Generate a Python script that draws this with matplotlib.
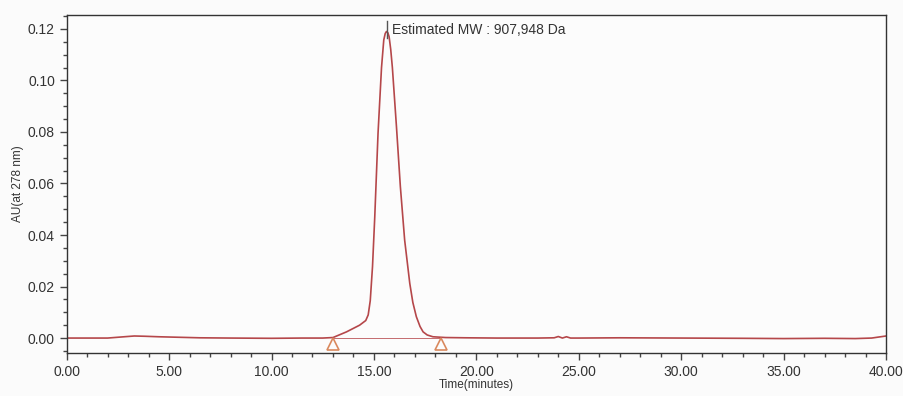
import numpy as np
import matplotlib
matplotlib.use("Agg")
import matplotlib.pyplot as plt
from matplotlib.ticker import MultipleLocator, FormatStrFormatter

plt.rcParams["font.family"] = ["Liberation Sans", "DejaVu Sans"]

# chromatogram trace (time in minutes, absorbance in AU)
time_min = [0.0, 1.0, 2.0, 2.8, 3.3, 3.8, 4.5, 5.5, 6.5, 8.0, 10.0, 11.5, 12.5, 13.0,
            13.66, 14.3, 14.6, 14.72, 14.82, 14.93, 15.04, 15.2, 15.37, 15.48, 15.55,
            15.61, 15.68, 15.74, 15.82, 15.9, 16.1, 16.29, 16.5, 16.75, 16.9, 17.07,
            17.25, 17.4, 17.6, 17.88, 18.5, 19.5, 21.0, 23.0, 23.8, 24.0, 24.2, 24.4,
            24.6, 25.0, 27.0, 30.0, 33.0, 35.0, 37.0, 38.5, 39.3, 40.0]
au = [0.0, 0.0, 0.0, 0.0005, 0.0008, 0.0007, 0.0005, 0.0003, 0.0001, 0.0, -0.0001,
      0.0, 0.0, 0.0002, 0.0024, 0.005, 0.0068, 0.009, 0.0145, 0.0277, 0.047, 0.0795,
      0.105, 0.1157, 0.1182, 0.119, 0.1185, 0.117, 0.112, 0.105, 0.082, 0.0588,
      0.038, 0.0212, 0.0138, 0.0083, 0.0045, 0.0024, 0.0012, 0.0005, 0.0002, 0.0001,
      0.0, 0.0, 0.0001, 0.0006, 0.0, 0.0005, 0.0, 0.0, 0.0001, 0.0, -0.0001, -0.0002,
      -0.0001, -0.0002, 0.0, 0.0008]

peak_start, peak_end = 13.0, 18.25
peak_time = 15.62
peak_label = "Estimated MW : 907,948 Da"

line_c = "#b5474a"
tri_c = "#d9895e"

fig = plt.figure(figsize=(9.04, 3.96), dpi=100, facecolor="#fbfbfb")
ax = fig.add_axes([66.7 / 904, 1 - 353 / 396, (886 - 66.7) / 904, (353 - 15) / 396])
ax.set_facecolor("#fcfcfc")

ax.plot(time_min, au, color=line_c, lw=1.2)
ax.plot([peak_start, peak_end], [0, 0], color=line_c, lw=0.7, alpha=0.8)
ax.plot([peak_start, peak_end], [-0.0022, -0.0022], ls="none", marker="^", ms=9,
        mfc="none", mec=tri_c, mew=1.2)
ax.plot([peak_time, peak_time], [0.1165, 0.1232], color="#555555", lw=1.0)
ax.text(peak_time + 0.25, 0.1196, peak_label, fontsize=10, color="#333333",
        va="center", ha="left")

ax.set_xlim(0, 40)
ax.set_ylim(-0.0058, 0.1254)
ax.xaxis.set_major_locator(MultipleLocator(5))
ax.xaxis.set_minor_locator(MultipleLocator(1))
ax.yaxis.set_major_locator(MultipleLocator(0.02))
ax.yaxis.set_minor_locator(MultipleLocator(0.005))
ax.xaxis.set_major_formatter(FormatStrFormatter("%.2f"))
ax.yaxis.set_major_formatter(FormatStrFormatter("%.2f"))
ax.tick_params(which="major", length=5, width=1, color="#444444", labelsize=10,
               labelcolor="#333333", direction="out")
ax.tick_params(which="minor", length=3, width=1, color="#444444", direction="out")
ax.set_ylim(-0.0058, 0.1254)
for side in ("left", "bottom", "top", "right"):
    ax.spines[side].set_color("#333333")
    ax.spines[side].set_linewidth(1.0)

ax.set_xlabel("Time(minutes)", fontsize=8.5, color="#333333", labelpad=0)
ax.set_ylabel("AU(at 278 nm)", fontsize=8.5, color="#333333", labelpad=3)

fig.savefig("out.png", dpi=100, facecolor=fig.get_facecolor())
